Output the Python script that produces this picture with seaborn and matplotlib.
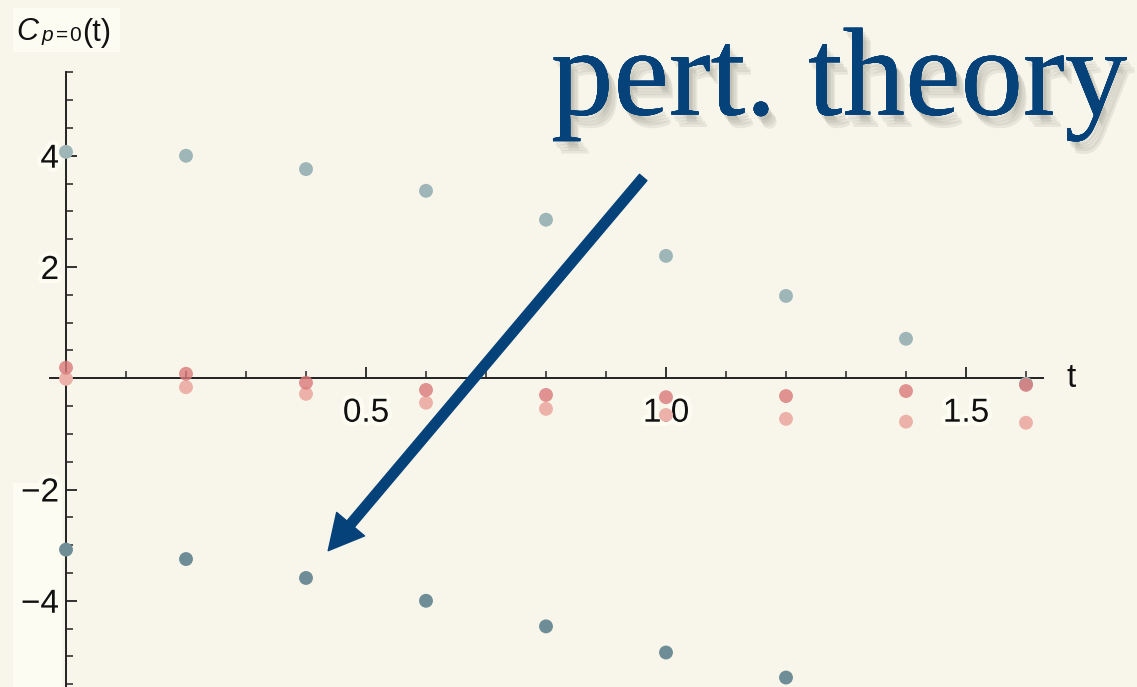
import numpy as np
import pandas as pd
import matplotlib
matplotlib.use("Agg")
import matplotlib.pyplot as plt
import matplotlib.patheffects as pe
from matplotlib.patches import Rectangle
from matplotlib.ticker import FixedLocator
import seaborn as sns

# Correlator samples on the time grid
t_vals = [0.0, 0.2, 0.4, 0.6, 0.8, 1.0, 1.2, 1.4, 1.6]
upper_branch = [4.07, 4.00, 3.76, 3.37, 2.85, 2.20, 1.48, 0.71, -0.10]
lower_t = [0.0, 0.2, 0.4, 0.6, 0.8, 1.0, 1.2]
lower_branch = [-3.08, -3.25, -3.59, -4.00, -4.46, -4.93, -5.38]
pert_lo = [0.19, 0.08, -0.08, -0.21, -0.30, -0.34, -0.32, -0.23, -0.12]
pert_hi = [-0.01, -0.16, -0.28, -0.44, -0.55, -0.66, -0.73, -0.78, -0.80]

x_major = [0.5, 1.0, 1.5]
y_major = [-4, -2, 2, 4]

BG = "#f8f6ea"
LIGHT = "#fdfcf2"
NAVY = "#06427a"
INK = "#111111"

sns.set_theme(style="white")
plt.rcParams["font.family"] = ["Liberation Sans", "DejaVu Sans"]

df = pd.concat([
    pd.DataFrame({"t": t_vals, "C": upper_branch, "series": "upper"}),
    pd.DataFrame({"t": lower_t, "C": lower_branch, "series": "lower"}),
    pd.DataFrame({"t": t_vals, "C": pert_hi, "series": "pert_hi"}),
    pd.DataFrame({"t": t_vals, "C": pert_lo, "series": "pert_lo"}),
], ignore_index=True)

palette = {"upper": "#9fb6b9", "lower": "#6f8d96",
           "pert_hi": "#ecb2aa", "pert_lo": "#d9797a"}

fig = plt.figure(figsize=(11.37, 6.87), dpi=100, facecolor=BG)
ax = fig.add_axes([0, 0, 1, 1], facecolor=BG)

# Lighter panels behind the lower tick labels and the axis label
ax.axvspan(-0.088, -0.007, ymin=0.0, ymax=0.297, color=LIGHT, lw=0, zorder=0)
ax.add_patch(Rectangle((0.0114, 0.924), 0.094, 0.064, transform=ax.transAxes,
                       facecolor=LIGHT, lw=0, zorder=0))

for name in ["upper", "lower", "pert_hi"]:
    sns.scatterplot(data=df[df.series == name], x="t", y="C", color=palette[name],
                    s=100, edgecolor="none", ax=ax, legend=False, zorder=3)
sns.scatterplot(data=df[df.series == "pert_lo"], x="t", y="C", color=palette["pert_lo"],
                s=100, edgecolor="none", alpha=0.8, ax=ax, legend=False, zorder=4)

ax.set_xlim(-0.11, 1.785)
ax.set_ylim(-5.55, 6.80)
ax.set_xlabel("")
ax.set_ylabel("")

# Axes crossing at the origin
for side in ["top", "right"]:
    ax.spines[side].set_visible(False)
ax.spines["left"].set_position(("data", 0))
ax.spines["bottom"].set_position(("data", 0))
ax.spines["left"].set_bounds(-5.55, 5.51)
ax.spines["bottom"].set_bounds(-0.027, 1.628)
for side in ["left", "bottom"]:
    ax.spines[side].set_color("#222222")
    ax.spines[side].set_linewidth(1.4)
    ax.spines[side].set_zorder(2)

ax.xaxis.set_major_locator(FixedLocator(x_major))
ax.xaxis.set_minor_locator(FixedLocator(np.round(np.arange(0.1, 1.65, 0.1), 2)))
ax.yaxis.set_major_locator(FixedLocator(y_major))
ax.yaxis.set_minor_locator(FixedLocator(np.arange(-5.5, 5.51, 0.5)))
ax.set_xticklabels([f"{v:.1f}" for v in x_major])
ax.set_yticklabels([f"\u2212{abs(v)}" if v < 0 else f"{v}" for v in y_major])

ax.tick_params(axis="x", which="major", direction="in", length=8, width=1.3,
               color="#222222", labelsize=24, pad=14, bottom=True)
ax.tick_params(axis="x", which="minor", direction="in", length=5, width=1.1,
               color="#222222", bottom=True)
ax.tick_params(axis="y", which="major", direction="in", length=8, width=1.3,
               color="#222222", labelsize=24, pad=5, left=True)
ax.tick_params(axis="y", which="minor", direction="in", length=5, width=1.1,
               color="#222222", left=True)
halo = [pe.withStroke(linewidth=6, foreground=LIGHT)]
for lab in ax.get_xticklabels() + ax.get_yticklabels():
    lab.set_color(INK)
    lab.set_path_effects(halo)

# Vertical axis label C_{p=0}(t), set piece by piece
label_parts = [("C", 16, 647, 22, "italic"), ("p", 42, 646, 15, "italic"),
               ("=", 56, 646, 15, "normal"), ("0", 69, 646, 15, "normal"),
               ("(t)", 82, 646, 22, "normal")]
for txt, px, py, size, style in label_parts:
    ax.annotate(txt, xy=(px, py), xycoords="figure pixels", fontsize=size,
                style=style, color=INK, ha="left", va="baseline")
ax.text(1.675, 0.0, "t", fontsize=24, ha="center", va="center", color=INK)

# Headline and arrow
shadow = [pe.withSimplePatchShadow(offset=(dx, -dy), shadow_rgbFace="#7d7d70", alpha=0.13)
          for dx, dy in [(2, 3), (3, 5), (5, 7), (6, 9)]]
ax.text(0.738, 0.877, "pert. theory", transform=ax.transAxes,
        fontsize=90, family="Liberation Serif", color=NAVY,
        ha="center", va="center", zorder=6,
        path_effects=shadow + [pe.Normal()])
ax.annotate("", xy=(0.437, -3.10), xytext=(0.962, 3.61),
            arrowprops=dict(arrowstyle="simple,head_length=1.0,head_width=1.05,tail_width=0.28",
                            mutation_scale=25, color=NAVY, shrinkA=0, shrinkB=0),
            zorder=6)

fig.savefig("out.png", dpi=100, facecolor=BG)
